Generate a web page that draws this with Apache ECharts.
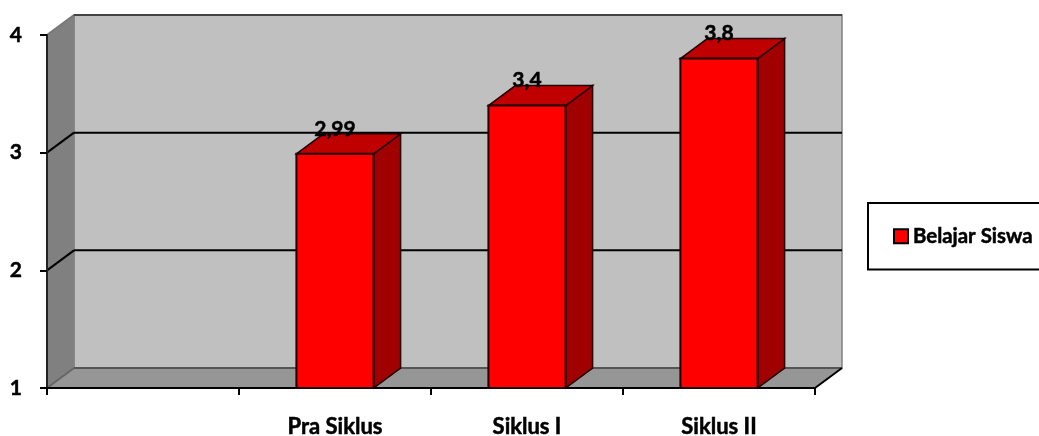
<!DOCTYPE html>
<html>
<head>
<meta charset="utf-8">
<style>html,body{margin:0;padding:0;background:#fff}#c{width:1039px;height:436px}</style>
<script src="https://cdn.jsdelivr.net/npm/echarts@6/dist/echarts.min.js"></script>
</head>
<body>
<div id="c"></div>
<script>
const categories = ['', 'Pra Siklus', 'Siklus I', 'Siklus II'];
const values = [null, 2.99, 3.4, 3.8];
const seriesName = 'Belajar Siswa';
const yTicks = [1, 2, 3, 4];

const DEPTH_X = 27, DEPTH_Y = -20, BAR_RATIO = 0.402;
const FONT = 'Lato, "Open Sans", sans-serif';
const HEAVY = {textBorderColor: '#000', textBorderWidth: 0.5};

const chart = echarts.init(document.getElementById('c'), null, {renderer: 'canvas'});

function poly(points, fill, stroke, lw, z2) {
  return {type: 'polygon', z2: z2 || 0, shape: {points},
    style: {fill, stroke: stroke || fill, lineWidth: lw === undefined ? 1 : lw, lineJoin: 'miter'}};
}
function seg(a, b, stroke, lw) {
  return {type: 'line', shape: {x1: a[0], y1: a[1], x2: b[0], y2: b[1]},
    style: {stroke, lineWidth: lw, fill: null}};
}

function renderWalls(params, api) {
  const cs = params.coordSys;
  const xL = cs.x, xR = cs.x + cs.width, yT = cs.y, yB = cs.y + cs.height;
  const dx = DEPTH_X, dy = DEPTH_Y;
  const ch = [
    poly([[xL + dx, yT + dy], [xR + dx, yT + dy], [xR + dx, yB + dy], [xL + dx, yB + dy]], '#C0C0C0', '#808080', 1.5),
    poly([[xL, yT], [xL + dx, yT + dy], [xL + dx, yB + dy], [xL, yB]], '#808080', '#808080', 1),
    poly([[xL, yB], [xL + dx, yB + dy], [xR + dx, yB + dy], [xR, yB]], '#969696', '#969696', 1)
  ];
  yTicks.forEach(t => {
    const y = api.coord([0, t])[1];
    const col = t === 1 ? '#555' : t === 4 ? '#444' : '#000';
    const front = t === 1 ? '#666' : t === 4 ? '#777' : '#000';
    ch.push(seg([xL, y], [xL + dx, y + dy], front, 2));
    ch.push(seg([xL + dx, y + dy], [xR + dx, y + dy], col, 2));
  });
  ch.push(seg([xR, yB], [xR + dx, yB + dy], '#000', 2));
  ch.push(seg([xL, yT], [xL, yB], '#222', 2));
  return {type: 'group', children: ch};
}

function renderBar(params, api) {
  const v = api.value(1);
  const i = api.value(0);
  const w = api.size([1, 0])[0] * BAR_RATIO;
  const top = api.coord([i, v]);
  const base = api.coord([i, 1]);
  const l = top[0] - w / 2, r = top[0] + w / 2, t = top[1], b = base[1];
  const dx = DEPTH_X, dy = DEPTH_Y;
  const edge = '#200000';
  return {type: 'group', children: [
    poly([[r, t], [r + dx, t + dy], [r + dx, b + dy], [r, b]], '#A00000', edge, 1.5),
    poly([[l, t], [l + dx, t + dy], [r + dx, t + dy], [r, t]], '#C00000', edge, 1.5),
    poly([[l, t], [r, t], [r, b], [l, b]], '#FF0000', edge, 2),
    {type: 'text', x: top[0], y: t - 25, z2: 10, style: {
      text: String(v).replace('.', ','), fill: '#000', stroke: '#000', lineWidth: 0.5,
      font: 'bold 21px ' + FONT, align: 'center', verticalAlign: 'middle'}}
  ]};
}

chart.setOption({
  animation: false,
  backgroundColor: '#fff',
  grid: {left: 47, right: 224, top: 35, bottom: 48, containLabel: false, outerBoundsMode: 'none'},
  legend: {
    show: true, data: [seriesName], left: 868, top: 203, orient: 'horizontal',
    padding: [23, 30, 23, 25], borderColor: '#000', borderWidth: 2, borderRadius: 0,
    backgroundColor: '#fff', itemWidth: 14, itemHeight: 14, icon: 'rect',
    itemStyle: {color: '#FF0000', borderColor: '#000', borderWidth: 2},
    textStyle: Object.assign({fontFamily: FONT, fontWeight: 'bold', fontSize: 20.4, color: '#000'}, HEAVY)
  },
  xAxis: {
    type: 'category', data: categories, z: 5,
    axisLine: {show: true, lineStyle: {color: '#000', width: 2}},
    axisTick: {show: true, length: 7, lineStyle: {color: '#000', width: 2}},
    axisLabel: Object.assign({margin: 28, interval: 0, fontFamily: FONT, fontWeight: 'bold', fontSize: 22, color: '#000'}, HEAVY),
    splitLine: {show: false}
  },
  yAxis: {
    type: 'value', min: 1, max: 4, interval: 1, z: 5,
    axisLine: {show: true, lineStyle: {color: '#222', width: 2}},
    axisTick: {show: true, length: 7, lineStyle: {color: '#000', width: 2}},
    axisLabel: Object.assign({margin: 25, fontFamily: FONT, fontWeight: 'bold', fontSize: 21, color: '#000'}, HEAVY),
    splitLine: {show: false}
  },
  series: [
    {type: 'custom', name: 'walls', z: 1, silent: true, renderItem: renderWalls,
      data: [[0, 1]], encode: {x: 0, y: 1}},
    {type: 'custom', name: seriesName, z: 6, renderItem: renderBar,
      itemStyle: {color: '#FF0000'},
      data: values.map((v, i) => [i, v]).filter(d => d[1] !== null), encode: {x: 0, y: 1}}
  ]
});
</script>
</body>
</html>
